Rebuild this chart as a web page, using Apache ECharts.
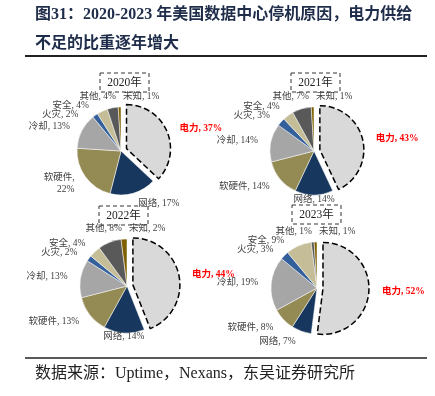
<!DOCTYPE html>
<html lang="zh">
<head>
    <meta charset="UTF-8">
    <title>数据中心停机原因</title>
    <style>
        body {
            margin: 0;
            background-color: #fff;
        }

        #chart {
            width: 435px;
            height: 396px;
        }
    </style>
</head>
<body>

    <div id="chart"></div>

    <script src="https://cdn.jsdelivr.net/npm/echarts@6/dist/echarts.min.js"></script>
    <script>

        // 停机原因（从12点方向顺时针）
        const causes = ['电力', '网络', '软硬件', '冷却', '火灾', '安全', '其他', '未知'];

        const years = ['2020年', '2021年', '2022年', '2023年'];

        // 各年占比 %
        const share2020 = [37, 17, 22, 13, 2, 4, 4, 1];
        const share2021 = [43, 14, 14, 14, 3, 4, 7, 1];
        const share2022 = [44, 14, 13, 13, 2, 4, 8, 2];
        const share2023 = [52, 7, 8, 19, 3, 9, 1, 1];

        const colors = ['#d9d9d9', '#17375e', '#948a54', '#a6a6a6', '#33609a', '#c4bd97', '#595959', '#7f6000'];

        const serif = '"Liberation Serif", "Noto Sans CJK SC", serif';

        const chart = echarts.init(document.getElementById('chart'));

        // 每个饼图的位置
        const layout = [
            { center: [121, 151], r: 44, box: [100, 73] },
            { center: [314, 151], r: 44, box: [291, 73] },
            { center: [127, 286], r: 47, box: [99, 206] },
            { center: [317, 288], r: 46, box: [292, 205] },
        ];

        const allShares = [share2020, share2021, share2022, share2023];

        // 标签位置：按扇区中线角度放在饼外，左侧自上而下避让
        function labelSpots(values, pos) {
            const cx = pos.center[0], cy = pos.center[1];
            const total = values.reduce((a, b) => a + b, 0);
            let acc = 0;
            const spots = values.map((v, i) => {
                const mid = (acc + v / 2) / total * Math.PI * 2;
                acc += v;
                const s = Math.sin(mid), c = Math.cos(mid);
                let align = s < 0 ? 'right' : 'left';
                if (Math.abs(s) < 0.15) align = 'center';
                const R = pos.r + (i === 0 ? 14 : align === 'center' ? 4 : 11);
                return { x: cx + R * s + (align === 'right' ? -2 : align === 'left' ? 2 : 0), y: cy - R * c, R, align };
            });
            const top = cy - pos.r - 11;
            spots[6] = { x: cx - 5, y: top, align: 'right', R: pos.r + 11 };
            spots[7] = { x: cx + 2, y: top, align: 'left', R: pos.r + 11 };
            const left = spots.slice(1, 6).filter(p => p.align === 'right').sort((a, b) => a.y - b.y);
            let prev = top;
            left.forEach(p => {
                if (p.y < prev + 9) {
                    p.y = prev + 9;
                    const dy = p.y - cy;
                    if (Math.abs(dy) < p.R) p.x = cx - Math.sqrt(p.R * p.R - dy * dy) - 2;
                }
                prev = p.y;
            });
            return spots;
        }

        function makeSeries(values, idx) {
            const pos = layout[idx];
            const spots = labelSpots(values, pos);
            return {
                type: 'pie',
                center: pos.center,
                radius: [0, pos.r],
                startAngle: 90,
                selectedMode: 'single',
                selectedOffset: 6,
                animation: false,
                label: {
                    position: 'outside',
                    fontFamily: serif,
                    fontSize: 9.5,
                    lineHeight: 12,
                    color: '#404040',
                    formatter: p => {
                        if (idx === 0 && p.name === '软硬件') return p.name + ',\n' + p.value + '%';
                        return p.name + ', ' + p.value + '%';
                    },
                },
                labelLine: { show: false, length: 6, length2: 2 },
                labelLayout: params => {
                    const p = spots[params.dataIndex];
                    return { x: p.x, y: p.y, align: p.align, verticalAlign: 'middle' };
                },
                emphasis: { disabled: true },
                data: values.map((v, i) => {
                    const item = {
                        name: causes[i],
                        value: v,
                        itemStyle: { color: colors[i], borderColor: '#fff', borderWidth: 0.5 },
                    };
                    if (i === 0) {
                        item.selected = true;
                        item.itemStyle = { color: colors[0], borderColor: '#000', borderWidth: 1.5, borderType: [6, 3] };
                        item.select = { itemStyle: item.itemStyle };
                        item.label = { color: '#ff0000', fontWeight: 'bold', fontSize: 9.5 };
                    }
                    return item;
                }),
            };
        }

        const graphics = [
            {
                type: 'text',
                style: {
                    text: '图31：2020-2023 年美国数据中心停机原因，电力供给',
                    x: 35, y: 15, font: 'bold 16px ' + serif, fill: '#1f2d4a', textVerticalAlign: 'middle',
                },
            },
            {
                type: 'text',
                style: {
                    text: '不足的比重逐年增大',
                    x: 35, y: 44, font: 'bold 16px ' + serif, fill: '#1f2d4a', textVerticalAlign: 'middle',
                },
            },
            { type: 'line', shape: { x1: 25, y1: 56, x2: 427, y2: 56 }, style: { stroke: '#222', lineWidth: 2 } },
            { type: 'line', shape: { x1: 25, y1: 358, x2: 427, y2: 358 }, style: { stroke: '#222', lineWidth: 1.5 } },
            {
                type: 'text',
                style: {
                    text: '数据来源：Uptime，Nexans，东吴证券研究所',
                    x: 35, y: 374, font: '16px ' + serif, fill: '#222', textVerticalAlign: 'middle',
                },
            },
        ];

        years.forEach((y, i) => {
            const b = layout[i].box;
            graphics.push({
                type: 'rect',
                z: -1,
                shape: { x: b[0], y: b[1], width: 49, height: 19 },
                style: { fill: '#fff', stroke: '#333', lineWidth: 1, lineDash: [4, 3] },
            });
            graphics.push({
                type: 'text',
                style: {
                    text: y, x: b[0] + 24.5, y: b[1] + 10, font: '11.5px ' + serif,
                    fill: '#222', textAlign: 'center', textVerticalAlign: 'middle',
                },
            });
        });

        chart.setOption({
            backgroundColor: '#fff',
            graphic: graphics,
            series: allShares.map((v, i) => makeSeries(v, i)),
        });

    </script>
</body>
</html>
